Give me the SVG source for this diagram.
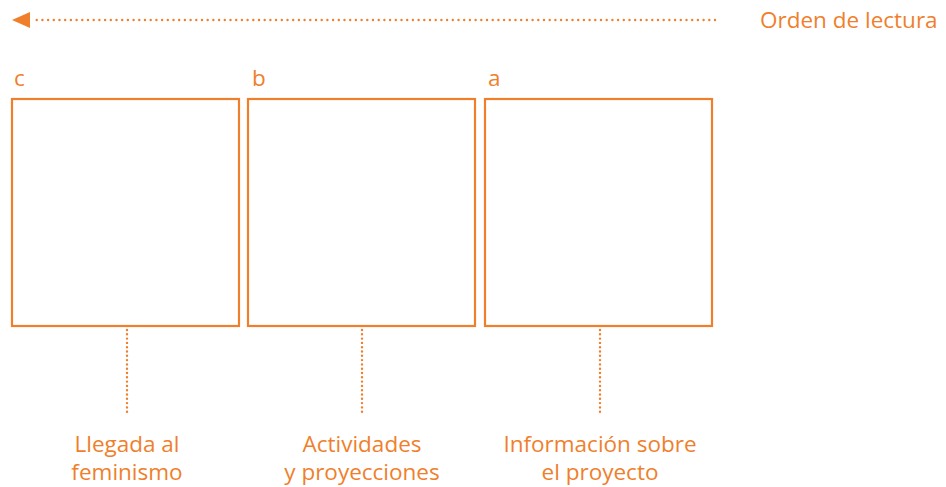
<svg xmlns="http://www.w3.org/2000/svg" width="946" height="487" viewBox="0 0 946 487">
<style>
.box{fill:none;stroke:#F07F2C;stroke-width:2.2}
.t{font-family:"Open Sans","Liberation Sans",sans-serif;font-size:22.5px;fill:#F07F2C}
.c{text-anchor:middle}
.dv{stroke:#F07F2C;stroke-width:2.4;stroke-linecap:round;stroke-dasharray:0 4.3;fill:none}
.dh{stroke:#F07F2C;stroke-width:2.4;stroke-linecap:round;stroke-dasharray:0 5.7;fill:none}
</style>
<g id="connectors">
<path class="dh" d="M715,20 L32,20"/>
<polygon points="12,20 30,12 30,28" fill="#F07F2C"/>
<path class="dv" d="M127,330 L127,413"/>
<path class="dv" d="M362,330 L362,416"/>
<path class="dv" d="M600,330 L600,416"/>
</g>
<g id="title"><text class="t" x="760" y="28">Orden de lectura</text></g>
<g id="node-c">
<text class="t" x="14" y="86">c</text>
<rect class="box" x="12" y="99" width="227" height="227"/>
<text class="t c" x="127" y="452">Llegada al</text>
<text class="t c" x="127" y="480">feminismo</text>
</g>
<g id="node-b">
<text class="t" x="252" y="86">b</text>
<rect class="box" x="248" y="99" width="227" height="227"/>
<text class="t c" x="362" y="452">Actividades</text>
<text class="t c" x="362" y="480">y proyecciones</text>
</g>
<g id="node-a">
<text class="t" x="488" y="86">a</text>
<rect class="box" x="485" y="99" width="227" height="227"/>
<text class="t c" x="600" y="452">Información sobre</text>
<text class="t c" x="600" y="480">el proyecto</text>
</g>
</svg>
